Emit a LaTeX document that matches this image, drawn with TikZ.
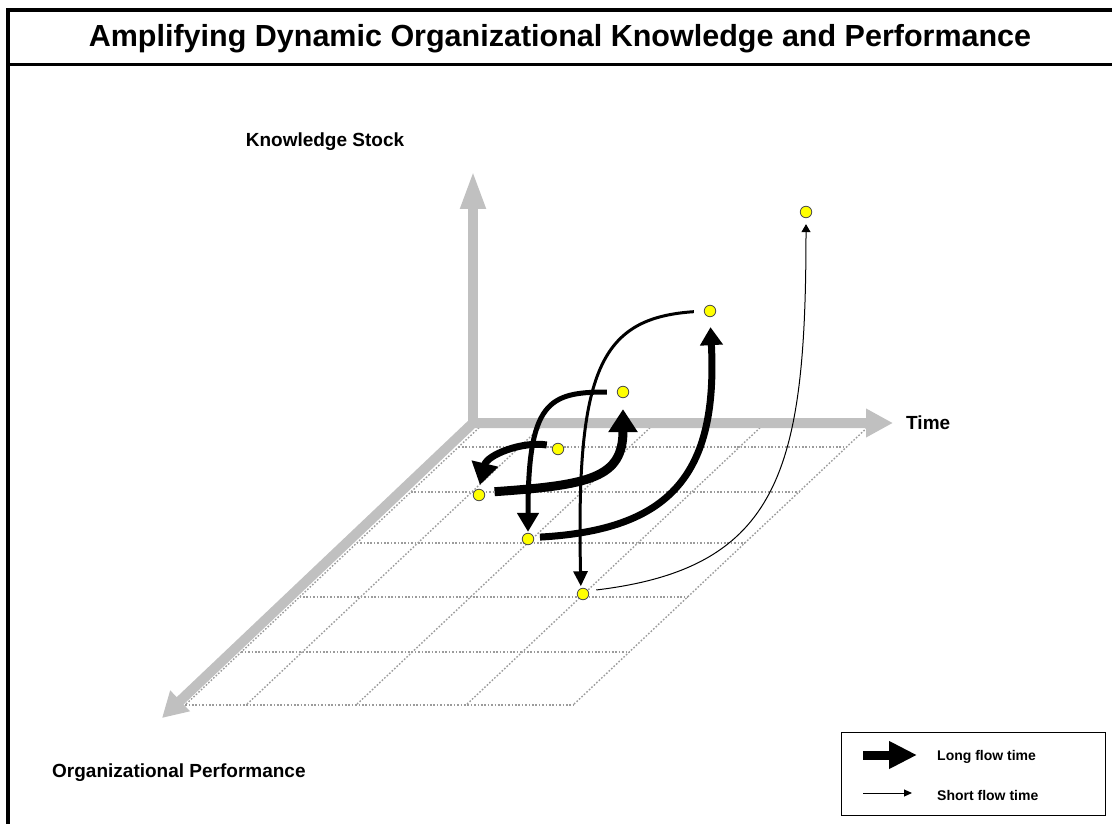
\documentclass[tikz,border=0pt]{standalone}
\usepackage{fontspec}
\setmainfont{Liberation Sans}
\usepackage{tikz}
\usetikzlibrary{arrows.meta}
\definecolor{axisgray}{HTML}{C0C0C0}
\definecolor{gridgray}{HTML}{9C9C9C}
\definecolor{dotyellow}{HTML}{FFFF00}

\begin{document}
\begin{tikzpicture}[x=1pt,y=-1pt,
        dot/.style={circle,draw=black!70,fill=dotyellow,line width=0.8pt,inner sep=0pt,minimum size=11.5pt},
        axisline/.style={draw=axisgray,line width=10pt},
        gridline/.style={draw=gridgray,line width=1.4pt,dash pattern=on 1.6pt off 1.8pt},
        flow/.style={draw=black},
        axislabel/.style={font=\bfseries\fontsize{19}{22}\selectfont,inner sep=0pt},
        legendtext/.style={font=\bfseries\fontsize{14}{17}\selectfont,anchor=west,inner sep=0pt}]

        \useasboundingbox (0,0) rectangle (1112,824);

        \draw[line width=4pt] (8,850) -- (8,10.5) -- (1130,10.5);
        \draw[line width=3pt] (8,65) -- (1130,65);
        \node[font=\bfseries\fontsize{30.5}{36}\selectfont] (title) at (560,39) {Amplifying Dynamic Organizational Knowledge and Performance};

        % grid on the floor
        \draw[gridline] (458.6,447) -- (846.6,447);
        \draw[gridline] (410.9,492) -- (798.9,492);
        \draw[gridline] (356.8,543) -- (744.8,543);
        \draw[gridline] (299.6,597) -- (687.6,597);
        \draw[gridline] (241.3,652) -- (629.3,652);
        \draw[gridline] (185.1,705) -- (573.1,705);
        \draw[gridline] (484,423) -- (185.1,705);
        \draw[gridline] (545,423) -- (246.1,705);
        \draw[gridline] (655,423) -- (356.1,705);
        \draw[gridline] (765,423) -- (466.1,705);
        \draw[gridline] (872,423) -- (573.1,705);

        % axes
        \coordinate (origin) at (473,423);
        \coordinate (kbase) at (473,428);
        \coordinate (ktip) at (473,170);
        \coordinate (ttip) at (893,423);
        \coordinate (ptip) at (162,718);
        \draw[axisline,{Triangle[length=25pt,width=27pt]}-{Triangle[length=27pt,width=27pt]}] (ptip) -- (origin) -- (ttip);
        \draw[axisline,-{Triangle[length=39pt,width=23pt]}] (kbase) -- (ktip);

        \node[axislabel] (klbl) at (325,142) {Knowledge Stock};
        \node[axislabel,anchor=west] (tlbl) at (906,423) {Time};
        \node[axislabel,anchor=west] (plbl) at (52,773) {Organizational Performance};

        \node[dot] (k1) at (558,449) {};
        \node[dot] (k2) at (479,495) {};
        \node[dot] (k3) at (623,392) {};
        \node[dot] (k4) at (528,539) {};
        \node[dot] (k5) at (710,311) {};
        \node[dot] (k6) at (583,594) {};
        \node[dot] (k7) at (806,212) {};

        \draw[flow,line width=7pt,-{Triangle[length=22pt,width=26pt]},shorten <=6pt,shorten >=4pt]
            (k1.150) .. controls (522,441) and (487,455) .. (k2.north);
        \draw[flow,line width=9pt,-{Triangle[length=23pt,width=28pt]},shorten <=10pt,shorten >=11pt]
            (k2.25) .. controls (590,485) and (623,478) .. (k3.south);
        \draw[flow,line width=5pt,-{Triangle[length=19pt,width=21pt]},shorten <=10pt,shorten >=1pt]
            (k3.west) .. controls (548,392) and (528,402) .. (k4.north);
        \draw[flow,line width=7pt,-{Triangle[length=18pt,width=22pt]},shorten <=6pt,shorten >=10pt]
            (k4.15) .. controls (670,530) and (718,475) .. (k5.south);
        \draw[flow,line width=3pt,-{Triangle[length=15pt,width=14pt]},shorten <=10pt,shorten >=2pt]
            (k5.west) .. controls (600,318) and (576,370) .. (k6.110);
        \draw[flow,line width=1pt,-{Triangle[length=8pt,width=9pt]},shorten <=8pt,shorten >=6pt]
            (k6.30) .. controls (780,568) and (806,470) .. (k7.south);

        % legend
        \node[draw=black,line width=1pt,minimum width=264pt,minimum height=83pt] (legend) at (973,773.5) {};
        \coordinate (longA) at (863,755);
        \coordinate (longB) at (917,755);
        \coordinate (shortA) at (863,793);
        \coordinate (shortB) at (912,793);
        \draw[line width=9pt,-{Triangle[length=28pt,width=26pt]}] (longA) -- (longB);
        \draw[line width=1pt,-{Triangle[length=8pt,width=7pt]}] (shortA) -- (shortB);
        \node[legendtext] (longlbl) at (937,757) {Long flow time};
        \node[legendtext] (shortlbl) at (937,795) {Short flow time};

    \end{tikzpicture}
\end{document}
